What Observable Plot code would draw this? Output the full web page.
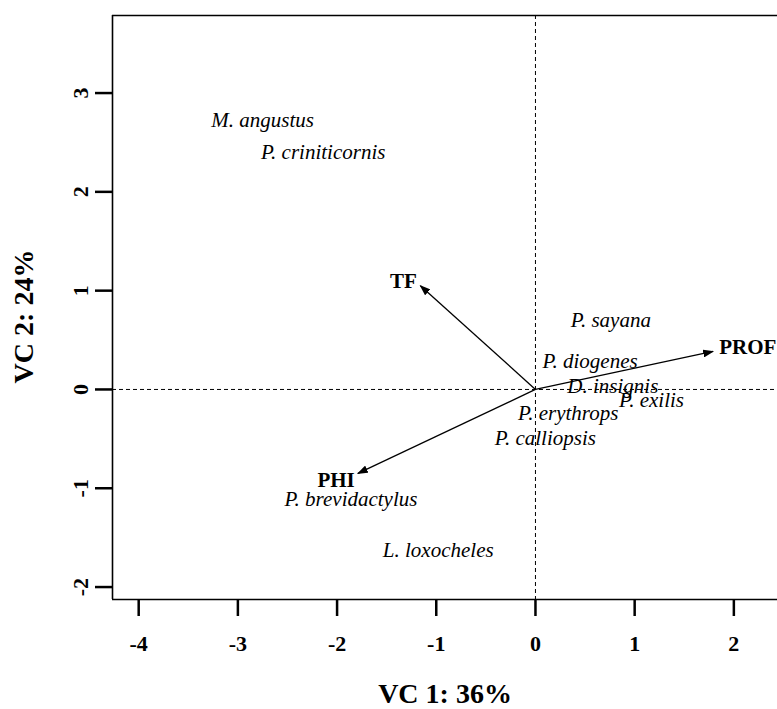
<!DOCTYPE html>
<html>
<head>
<meta charset="utf-8">
<script src="https://cdn.jsdelivr.net/npm/d3@7"></script>
<script src="https://cdn.jsdelivr.net/npm/@observablehq/plot@0.6"></script>
<style>
  html, body { margin: 0; padding: 0; background: #fff; }
  svg { display: block; }
</style>
</head>
<body>
<div id="chart"></div>
<script>
// Species scores
const species = ["M. angustus", "P. criniticornis", "P. sayana", "P. diogenes", "D. insignis",
  "P. exilis", "P. erythrops", "P. calliopsis", "P. brevidactylus", "L. loxocheles"];
const speciesX = [-2.75, -2.14, 0.76, 0.55, 0.78, 1.17, 0.33, 0.10, -1.86, -0.98];
const speciesY = [2.72, 2.40, 0.70, 0.29, 0.03, -0.11, -0.245, -0.49, -1.11, -1.63];

// Environmental vectors
const vectors = ["TF", "PROF", "PHI"];
const vectorX = [-1.16, 1.79, -1.79];
const vectorY = [1.05, 0.385, -0.85];
const vectorLabelX = [-1.33, 2.14, -2.01];
const vectorLabelY = [1.09, 0.425, -0.92];

// Axes
const xTicks = [-4, -3, -2, -1, 0, 1, 2];
const yTicks = [-2, -1, 0, 1, 2, 3];
const xDomain = [-4.264, 2.44];
const yDomain = [-2.126, 3.785];
const xTitle = "VC 1: 36%";
const yTitle = "VC 2: 24%";

const speciesData = species.map((name, i) => ({name, x: speciesX[i], y: speciesY[i]}));
const vectorData = vectors.map((name, i) => ({name, x: vectorX[i], y: vectorY[i], lx: vectorLabelX[i], ly: vectorLabelY[i]}));

const serif = "'Liberation Serif', 'Times New Roman', Times, serif";

const svg = Plot.plot({
  width: 777,
  height: 709,
  marginLeft: 112,
  marginRight: 0,
  marginTop: 15,
  marginBottom: 110,
  style: {fontFamily: serif, background: "#fff", overflow: "visible"},
  x: {domain: xDomain},
  y: {domain: yDomain},
  marks: [
    // dashed zero lines
    Plot.ruleX([0], {stroke: "#000", strokeWidth: 1, strokeDasharray: "4,3"}),
    Plot.ruleY([0], {stroke: "#000", strokeWidth: 1, strokeDasharray: "4,3"}),
    // box (left, top, bottom)
    Plot.ruleX([xDomain[0]], {stroke: "#000", strokeWidth: 1.6}),
    Plot.ruleY([yDomain[0], yDomain[1]], {stroke: "#000", strokeWidth: 1.6}),
    // axes
    Plot.axisX({ticks: xTicks, tickSize: 17, tickPadding: 19, tickFormat: d => String(d),
      fontSize: 22, fontWeight: "bold", fontFamily: serif, strokeWidth: 2.5, label: null}),
    Plot.axisY({ticks: yTicks, tickSize: 17, tickFormat: () => "", strokeWidth: 2.5, label: null}),
    Plot.text(yTicks, {x: xDomain[0], y: d => d, text: d => String(d), rotate: -90, dx: -32,
      fontSize: 22, fontWeight: "bold", fontFamily: serif, textAnchor: "middle", lineAnchor: "middle", fill: "#000"}),
    // axis titles
    Plot.text([xTitle], {frameAnchor: "bottom", text: d => d, dy: 95, fontSize: 28, fontWeight: "bold",
      fontFamily: serif, lineAnchor: "middle", fill: "#000"}),
    Plot.text([yTitle], {frameAnchor: "left", text: d => d, rotate: -90, dx: -88, dy: 9, fontSize: 28, fontWeight: "bold",
      fontFamily: serif, lineAnchor: "middle", textAnchor: "middle", fill: "#000"}),
    // vectors
    Plot.link(vectorData, {x1: () => 0, y1: () => 0, x2: "x", y2: "y", stroke: "#000", strokeWidth: 1.3}),
    Plot.text(vectorData, {x: "lx", y: "ly", text: "name", fontSize: 21, fontWeight: "bold", fontFamily: serif,
      lineAnchor: "middle", textAnchor: "middle", fill: "#000"}),
    // species
    Plot.text(speciesData, {x: "x", y: "y", text: "name", fontSize: 21, fontStyle: "italic", fontFamily: serif,
      lineAnchor: "middle", textAnchor: "middle", fill: "#000"})
  ]
});

// filled arrowheads
const s = d3.select(svg);
const defs = s.insert("defs", ":first-child");
defs.append("marker")
  .attr("id", "ahead")
  .attr("viewBox", "0 0 10 10")
  .attr("refX", 9)
  .attr("refY", 5)
  .attr("markerUnits", "userSpaceOnUse")
  .attr("markerWidth", 11)
  .attr("markerHeight", 8)
  .attr("preserveAspectRatio", "none")
  .attr("orient", "auto")
  .append("path")
  .attr("d", "M0,0L10,5L0,10Z")
  .attr("fill", "#000");
s.selectAll('g[aria-label="link"] path').attr("marker-end", "url(#ahead)");

document.getElementById("chart").appendChild(svg);
</script>
</body>
</html>
